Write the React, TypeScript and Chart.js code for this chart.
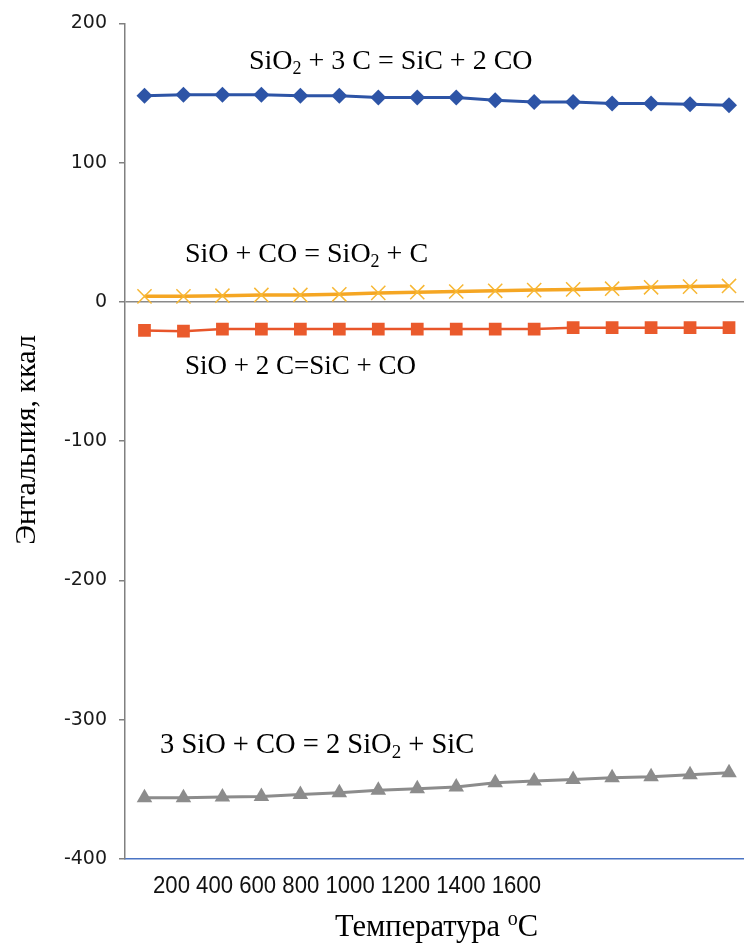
import { useEffect, useRef } from 'react';
import { Chart, registerables } from 'chart.js';

Chart.register(...registerables);

// Temperatures of the 16 calculated points (°C)
const temperatures = [100, 200, 300, 400, 500, 600, 700, 800, 900, 1000, 1100, 1200, 1300, 1400, 1500, 1600];

// Enthalpy, kcal
const sio2PlusC = [148, 148.7, 148.7, 148.7, 148, 148, 146.8, 146.8, 146.8, 144.9, 143.5, 143.5, 142.5, 142.5, 142, 141.3];
const sioPlusCo = [4, 4, 4.5, 5, 5, 5.5, 6.5, 7, 7.5, 8, 8.5, 9, 9.5, 10.5, 11, 11.5];
const sioPlus2c = [-20.5, -21, -19.5, -19.5, -19.5, -19.5, -19.5, -19.5, -19.5, -19.5, -19.5, -18.5, -18.5, -18.5, -18.5, -18.5];
const sio3PlusCo = [-356, -356, -355.5, -355.2, -353.6, -352.4, -350.7, -349.5, -348.3, -345.2, -344, -342.9, -341.7, -341, -339.5, -338];

// Tick labels printed under the axis
const xTickText = ['200', '400', '600', '800', '1000', '1200', '1400', '1600'];
const yTicks = [200, 100, 0, -100, -200, -300, -400];

// Reaction labels: [text, kind] where kind '' = normal, 'sub' = subscript
const eq1: [string, string][] = [['SiO', ''], ['2', 'sub'], [' + 3 C = SiC + 2 CO', '']];
const eq2: [string, string][] = [['SiO + CO = SiO', ''], ['2', 'sub'], [' + C', '']];
const eq3: [string, string][] = [['SiO + 2 C=SiC + CO', '']];
const eq4: [string, string][] = [['3 SiO + CO = 2 SiO', ''], ['2', 'sub'], [' + SiC', '']];

const yTitle = 'Энтальпия, ккал';
const xTitle: [string, string][] = [['Температура ', ''], ['o', 'sup'], ['C', '']];

const SERIF = '"Liberation Serif", "Times New Roman", serif';

function drawRich(ctx: CanvasRenderingContext2D, parts: [string, string][], x: number, y: number, size: number) {
  let cx = x;
  for (const [t, kind] of parts) {
    if (kind === 'sub') {
      ctx.font = `${Math.round(size * 0.65)}px ${SERIF}`;
      ctx.fillText(t, cx, y + size * 0.18);
    } else if (kind === 'sup') {
      ctx.font = `${Math.round(size * 0.65)}px ${SERIF}`;
      ctx.fillText(t, cx, y - size * 0.36);
    } else {
      ctx.font = `${size}px ${SERIF}`;
      ctx.fillText(t, cx, y);
    }
    cx += ctx.measureText(t).width;
  }
}

const textPlugin = {
  id: 'texts',
  afterDraw(chart: any) {
    const { ctx, scales } = chart;
    const y = scales.y;
    ctx.save();
    ctx.fillStyle = '#000';
    ctx.textAlign = 'left';
    ctx.textBaseline = 'alphabetic';
    drawRich(ctx, eq1, 249, y.getPixelForValue(167), 28);
    drawRich(ctx, eq2, 185, y.getPixelForValue(29), 28);
    drawRich(ctx, eq3, 185, y.getPixelForValue(-51.5), 27);
    drawRich(ctx, eq4, 160, y.getPixelForValue(-324), 28.5);

    // x tick text (condensed face)
    ctx.font = '24px "Liberation Sans Narrow", "Arial Narrow", "Liberation Sans", sans-serif';
    ctx.fillStyle = '#111';
    ctx.fillText(xTickText.join(' '), 153, 893, 388);

    // x title
    ctx.fillStyle = '#000';
    drawRich(ctx, xTitle, 335, 936, 30.5);

    // y title
    ctx.save();
    ctx.translate(35, 440);
    ctx.rotate(-Math.PI / 2);
    ctx.textAlign = 'center';
    ctx.font = `30px ${SERIF}`;
    ctx.fillText(yTitle, 0, 0);
    ctx.restore();
    ctx.restore();
  },
};

export default function App() {
  const ref = useRef<HTMLCanvasElement>(null);
  useEffect(() => {
    document.body.style.margin = '0';
    const chart = new Chart(ref.current!, {
      type: 'line',
      data: {
        labels: temperatures.map(String),
        datasets: [
          {
            label: 'SiO2 + 3 C = SiC + 2 CO',
            data: sio2PlusC,
            borderColor: '#2D54A6',
            backgroundColor: '#2D54A6',
            borderWidth: 3,
            pointStyle: 'rectRot',
            pointRadius: 8,
            pointBorderWidth: 0,
          },
          {
            label: 'SiO + CO = SiO2 + C',
            data: sioPlusCo,
            borderColor: '#F5A623',
            backgroundColor: '#F7B52F',
            pointBorderColor: '#F7B733',
            borderWidth: 3.5,
            pointStyle: 'crossRot',
            pointRadius: 10,
            pointBorderWidth: 1.5,
          },
          {
            label: 'SiO + 2 C=SiC + CO',
            data: sioPlus2c,
            borderColor: '#E8552A',
            backgroundColor: '#EA5A2C',
            borderWidth: 2.5,
            pointStyle: 'rect',
            pointRadius: 9,
            pointBorderWidth: 0,
          },
          {
            label: '3 SiO + CO = 2 SiO2 + SiC',
            data: sio3PlusCo,
            borderColor: '#8C8C8C',
            backgroundColor: '#8C8C8C',
            borderWidth: 3,
            pointStyle: 'triangle',
            pointRadius: 9,
            pointBorderWidth: 0,
          },
        ],
      },
      options: {
        responsive: false,
        animation: false,
        devicePixelRatio: 1,
        layout: { padding: { left: 0, right: 1, top: 22, bottom: 86 } },
        plugins: {
          legend: { display: false },
          tooltip: { enabled: false },
        },
        elements: { line: { tension: 0 } },
        scales: {
          x: {
            type: 'category',
            offset: true,
            grid: { display: false, drawTicks: false },
            border: { display: true, color: '#4A74C4', width: 1.5 },
            ticks: { display: false },
            afterFit: (s: any) => { s.height = 0; },
          },
          y: {
            min: -400,
            max: 200,
            afterBuildTicks: (s: any) => { s.ticks = yTicks.map((v) => ({ value: v })); },
            ticks: {
              padding: 12,
              color: '#1a1a1a',
              font: { family: '"DejaVu Sans", sans-serif', size: 19 },
            },
            grid: {
              color: (c: any) => (c.tick && c.tick.value === 0 ? '#8a8a8a' : 'rgba(0,0,0,0)'),
              lineWidth: 1.5,
              tickColor: '#808080',
              tickLength: 6,
              drawTicks: true,
            },
            border: { display: true, color: '#808080', width: 1.5 },
            afterFit: (s: any) => { s.width = 125; },
          },
        },
      },
      plugins: [textPlugin],
    });
    return () => chart.destroy();
  }, []);
  return (
    <div style={{ width: 744, height: 945, overflow: 'hidden', background: '#fff' }}>
      <canvas ref={ref} width={760} height={945} style={{ display: 'block' }} />
    </div>
  );
}
